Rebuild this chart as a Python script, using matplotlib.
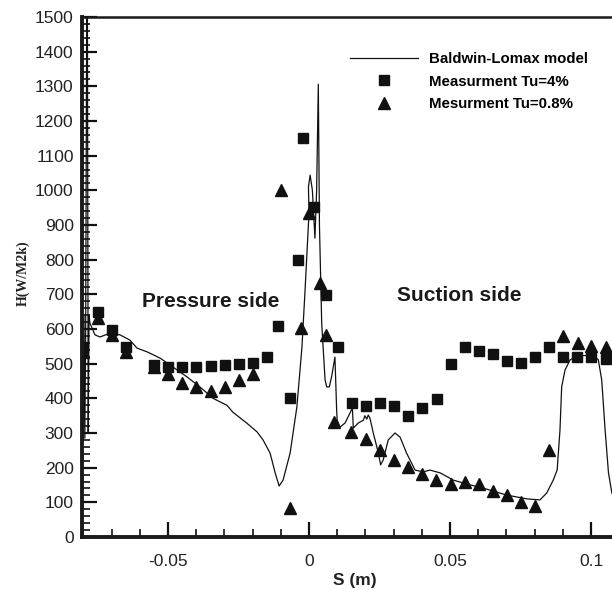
import numpy as np
import matplotlib.pyplot as plt
from matplotlib.ticker import MultipleLocator, FixedLocator

# Baldwin-Lomax model curve (S in m, H in W/m2K)
model_s = [-0.0803, -0.0801, -0.0798, -0.0795, -0.0792, -0.0788, -0.0786, -0.0783,
           -0.0780, -0.0777, -0.0759, -0.0741, -0.0706, -0.0670, -0.0635, -0.0610,
           -0.0574, -0.0528, -0.0482, -0.0433, -0.0387, -0.0340, -0.0316, -0.0291,
           -0.0270, -0.0220, -0.0184, -0.0163, -0.0138, -0.0120, -0.0106, -0.0092,
           -0.0067, -0.0043, -0.0025, -0.0014, 0.0000, -0.0002, 0.0004, 0.0012,
           0.0021, 0.0027, 0.0033, 0.0037, 0.0045, 0.0050, 0.0057, 0.0063,
           0.0072, 0.0080, 0.0092, 0.0098, 0.0100, 0.0110, 0.0128, 0.0145,
           0.0154, 0.0157, 0.0175, 0.0193, 0.0198, 0.0205, 0.0210, 0.0216,
           0.0228, 0.0246, 0.0254, 0.0263, 0.0281, 0.0305, 0.0323, 0.0346,
           0.0376, 0.0405, 0.0429, 0.0465, 0.0512, 0.0559, 0.0630, 0.0701,
           0.0772, 0.0819, 0.0843, 0.0866, 0.0880, 0.0890, 0.0896, 0.0908,
           0.0926, 0.0949, 0.1008, 0.1026, 0.1038, 0.1050, 0.1062, 0.1074,
           0.1090]
model_h = [560, 280, 640, 285, 600, 1600, 1600, 300,
           640, 617, 583, 577, 588, 583, 568, 545,
           534, 516, 490, 462, 433, 400, 390, 380,
           360, 328, 303, 280, 242, 185, 147, 164,
           242, 375, 548, 712, 935, 1010, 1044, 1000,
           862, 1000, 1306, 900, 617, 548, 453, 433,
           433, 462, 519, 366, 337, 317, 329, 357,
           372, 314, 329, 337, 350, 340, 352, 343,
           300, 242, 208, 222, 280, 300, 288, 242,
           193, 188, 193, 185, 164, 153, 138, 121,
           110, 107, 127, 164, 193, 309, 433, 482,
           511, 522, 525, 511, 453, 309, 185, 127,
           100]

# Measurement Tu=4%
sq_s = [-0.0800, -0.0749, -0.0697, -0.0649, -0.0550, -0.0499, -0.0450, -0.0399,
        -0.0349, -0.0298, -0.0248, -0.0198, -0.0150, -0.0111, -0.0067, -0.0040,
        -0.0020, 0.0019, 0.0059, 0.0102, 0.0151, 0.0201, 0.0252, 0.0301,
        0.0350, 0.0401, 0.0453, 0.0502, 0.0552, 0.0603, 0.0651, 0.0701,
        0.0751, 0.0801, 0.0852, 0.0902, 0.0951, 0.1001, 0.1052]
sq_h = [549, 648, 597, 549, 496, 489, 491, 491,
        494, 497, 500, 503, 520, 610, 400, 799,
        1150, 951, 698, 549, 387, 379, 387, 379,
        350, 371, 399, 499, 549, 537, 528, 509,
        501, 520, 549, 518, 518, 518, 513]

# Measurement Tu=0.8%
tri_s = [-0.0800, -0.0749, -0.0697, -0.0649, -0.0550, -0.0499, -0.0450, -0.0399,
         -0.0349, -0.0298, -0.0248, -0.0198, -0.0099, -0.0067, -0.0028, 0.0001,
         0.0040, 0.0061, 0.0090, 0.0149, 0.0201, 0.0252, 0.0301, 0.0350,
         0.0402, 0.0450, 0.0502, 0.0552, 0.0603, 0.0651, 0.0701, 0.0751,
         0.0801, 0.0852, 0.0902, 0.0953, 0.1001, 0.1052]
tri_h = [534, 633, 583, 533, 490, 470, 443, 432,
         422, 432, 453, 470, 1001, 83, 602, 934,
         732, 583, 333, 302, 282, 251, 222, 203,
         182, 163, 153, 158, 153, 134, 121, 102,
         90, 251, 580, 560, 551, 548]


def main():
    plt.rcParams['font.family'] = 'Liberation Sans'
    fig = plt.figure(figsize=(6.12, 5.9), dpi=100)
    # right edge of the axes runs past the figure, like the clipped original
    ax = fig.add_axes([82 / 612, 53 / 590, (625 - 82) / 612, 520 / 590])

    ax.plot(model_s, model_h, color='#111111', lw=0.9, label='Baldwin-Lomax model')
    ax.plot(sq_s, sq_h, 's', color='#111111', ms=7.2, mec='#111111',
            label='Measurment Tu=4%')
    ax.plot(tri_s, tri_h, '^', color='#111111', ms=8, mec='#111111',
            label='Mesurment Tu=0.8%')

    ax.set_xlim(-0.0805, (625 - 309) / 2820)
    ax.set_ylim(0, 1500)

    ax.xaxis.set_major_locator(FixedLocator([-0.05, 0, 0.05, 0.1]))
    ax.xaxis.set_minor_locator(MultipleLocator(0.01))
    ax.yaxis.set_major_locator(MultipleLocator(100))
    ax.yaxis.set_minor_locator(MultipleLocator(20))
    ax.set_xticklabels(['-0.05', '0', '0.05', '0.1'])

    ax.tick_params(which='both', direction='in', top=False, right=False,
                   labelsize=12.5, labelcolor='#222222', color='#111111')
    ax.tick_params(which='major', length=11, width=1.6, pad=6)
    ax.tick_params(axis='x', which='major', pad=12)
    ax.tick_params(which='minor', length=5.5, width=1.2)

    ax.spines['left'].set_linewidth(2.8)
    ax.spines['bottom'].set_linewidth(2.8)
    ax.spines['top'].set_linewidth(1.8)
    ax.spines['right'].set_visible(False)
    for sp in ax.spines.values():
        sp.set_color('#1a1a1a')

    ax.set_xlabel('S (m)', fontsize=12.5, fontweight='bold', color='#222222')
    ax.set_ylabel('H(W/M2k)', fontsize=10, fontweight='bold', family='Liberation Serif',
                  color='#222222')
    ax.xaxis.set_label_coords((355 - 82) / (625 - 82), -(573 - 537) / 520)
    ax.yaxis.set_label_coords(-(82 - 30) / (625 - 82), (537 - 273) / 520)

    ax.text(-0.0348, 678, 'Pressure side', fontsize=15, fontweight='bold',
            color='#1a1a1a', ha='center', va='center')
    ax.text(0.0532, 698, 'Suction side', fontsize=15, fontweight='bold',
            color='#1a1a1a', ha='center', va='center')

    ax.legend(loc='upper left', bbox_to_anchor=(350 / 612, 1 - 52 / 590),
              bbox_transform=fig.transFigure, frameon=False, borderpad=0,
              borderaxespad=0, handlelength=4.5, handletextpad=0.75,
              labelspacing=0.58, prop={'weight': 'bold', 'size': 10.8})

    fig.savefig('out.png', dpi=100)


if __name__ == '__main__':
    main()
